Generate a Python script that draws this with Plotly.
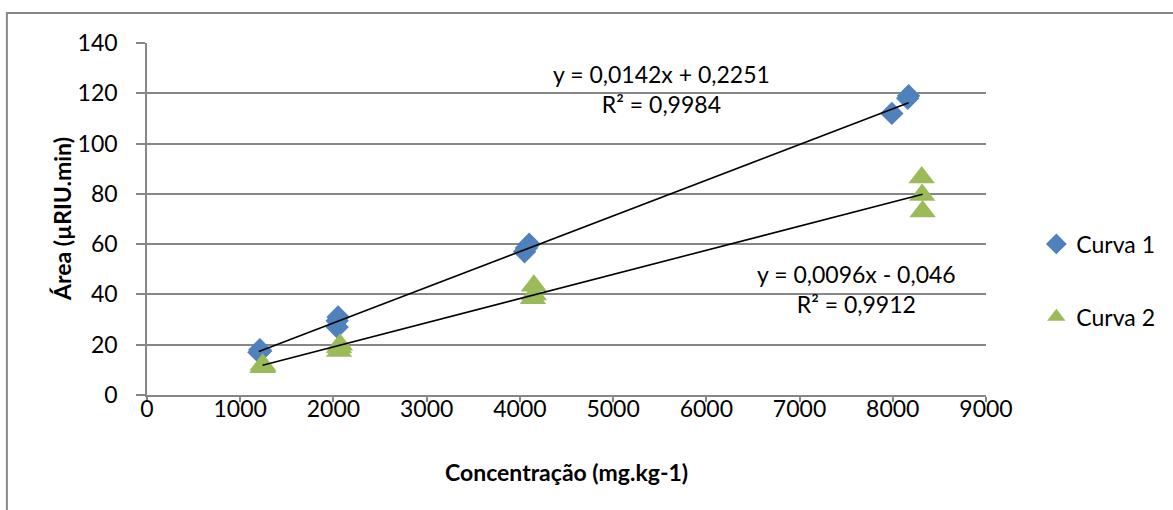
import plotly.graph_objects as go

# Calibration data: concentration (mg/kg) vs peak area (µRIU.min)
curva1_conc = [1200, 1210, 1220, 2040, 2040, 2050, 4050, 4070, 4100, 7990, 8160, 8170]
curva1_area = [17.0, 18.0, 17.5, 27.0, 29.5, 31.0, 57.0, 58.5, 60.0, 112.0, 118.0, 119.0]

curva2_conc = [1240, 1240, 1250, 2060, 2060, 2070, 4140, 4150, 4150, 8310, 8315, 8320]
curva2_area = [11.0, 12.0, 11.5, 17.5, 19.0, 20.0, 38.5, 40.0, 43.5, 86.5, 79.5, 73.0]

# Linear trendline coefficients (slope, intercept) and R²
fit1 = (0.0142, 0.2251, 0.9984)
fit2 = (0.0096, -0.046, 0.9912)

x_ticks = [0, 1000, 2000, 3000, 4000, 5000, 6000, 7000, 8000, 9000]
y_ticks = [0, 20, 40, 60, 80, 100, 120, 140]

FONT = "Lato, Carlito, Calibri, sans-serif"
GRID = "#878787"
BLUE = "#4F81BD"
GREEN = "#9BBB59"


def trend(xs, slope, intercept):
    x0, x1 = min(xs), max(xs)
    return [x0, x1], [slope * x0 + intercept, slope * x1 + intercept]


def fmt(v, d):
    return f"{abs(v):.{d}f}".replace(".", ",")


fig = go.Figure()

fig.add_trace(go.Scatter(
    x=curva1_conc, y=curva1_area, mode="markers", name="Curva 1",
    legendgroup="c1",
    marker=dict(symbol="diamond", size=18, color=BLUE, line=dict(width=0)),
))
fig.add_trace(go.Scatter(
    x=curva2_conc, y=curva2_area, mode="markers", name="Curva 2",
    legendgroup="c2",
    marker=dict(symbol="triangle-up", size=23, color=GREEN, line=dict(width=0)),
))

for xs, fit in ((curva1_conc, fit1), (curva2_conc, fit2)):
    tx, ty = trend(xs, fit[0], fit[1])
    fig.add_trace(go.Scatter(
        x=tx, y=ty, mode="lines", showlegend=False, hoverinfo="skip",
        line=dict(color="black", width=1.6),
    ))

eq1 = f"y = {fmt(fit1[0], 4)}x + {fmt(fit1[1], 4)}<br>R² = {fmt(fit1[2], 4)}"
eq2 = f"y = {fmt(fit2[0], 4)}x - {fmt(fit2[1], 3)}<br>R² = {fmt(fit2[2], 4)}"

annotations = [
    dict(x=5515, y=121.7, xref="x", yref="y", text=eq1, showarrow=False,
         align="center", font=dict(size=23, color="black", family=FONT)),
    dict(x=7607, y=42.0, xref="x", yref="y", text=eq2, showarrow=False,
         align="center", font=dict(size=23, color="black", family=FONT)),
    dict(x=0.5, y=0, xref="paper", yref="paper", yshift=-77, yanchor="middle",
         text="<b>Concentração (mg.kg-1)</b>", showarrow=False,
         font=dict(size=23, color="black", family=FONT)),
    dict(x=0, y=0.5, xref="paper", yref="paper", xshift=-85, xanchor="center",
         textangle=-90, text="<b>Área (µRIU.min)</b>", showarrow=False,
         font=dict(size=23, color="black", family=FONT)),
]

fig.update_layout(
    width=1173, height=510,
    margin=dict(l=147, r=187, t=43, b=115, autoexpand=False),
    paper_bgcolor="white", plot_bgcolor="white",
    font=dict(family=FONT, size=23, color="black"),
    showlegend=True,
    legend=dict(x=1.06, y=0.49, xanchor="left", yanchor="top",
                tracegroupgap=40, font=dict(size=23, family=FONT),
                bgcolor="rgba(0,0,0,0)", itemwidth=30),
    annotations=annotations,
    shapes=[dict(type="rect", xref="paper", yref="paper",
                 x0=-0.167, x1=1.5, y0=-1.0, y1=1.085,
                 line=dict(color=GRID, width=2), layer="below")],
)

fig.update_xaxes(
    range=[0, 9000], tickvals=x_ticks, ticktext=[str(v) for v in x_ticks],
    showgrid=False, zeroline=False, showline=True, linecolor=GRID, linewidth=1.5,
    ticks="outside", ticklen=5, tickcolor=GRID, tickwidth=1.5,
    ticklabelstandoff=-12,
    tickfont=dict(size=23, family=FONT, color="black"),
)
fig.update_yaxes(
    range=[0, 140], tickvals=y_ticks, ticktext=[str(v) for v in y_ticks],
    showgrid=True, gridcolor=GRID, gridwidth=1.5, zeroline=False,
    showline=True, linecolor=GRID, linewidth=1.5,
    ticks="outside", ticklen=9, tickcolor=GRID, tickwidth=1.5,
    ticklabelstandoff=14,
    tickfont=dict(size=23, family=FONT, color="black"),
)

fig.write_html("out.html")
